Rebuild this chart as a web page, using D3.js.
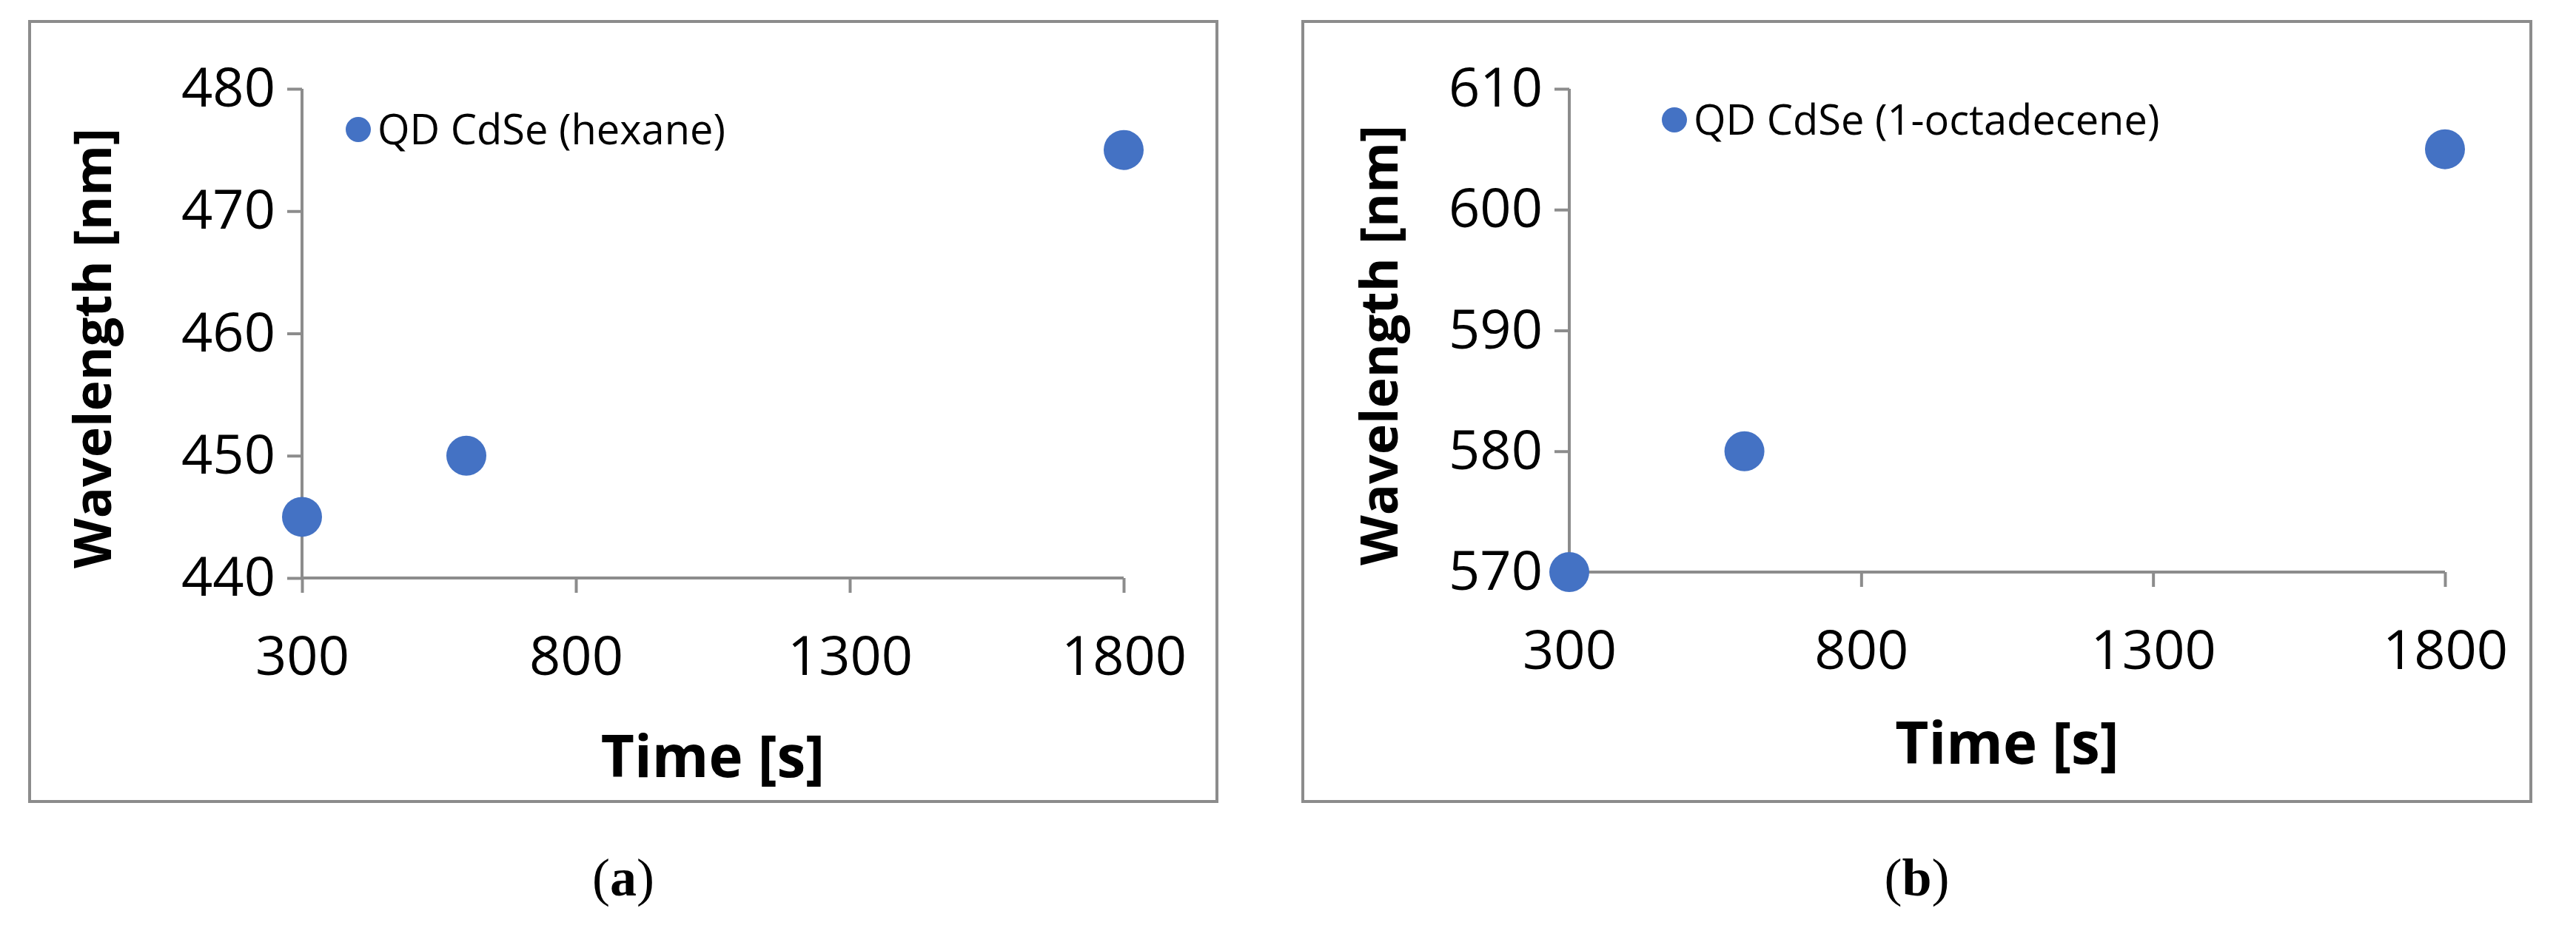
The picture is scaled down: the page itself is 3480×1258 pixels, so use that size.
<!DOCTYPE html>
<html><head><meta charset="utf-8">
<script src="https://cdn.jsdelivr.net/npm/d3@7"></script>
<style>body{margin:0;background:#fff}</style></head>
<body><svg id="c" width="3480" height="1258"></svg>
<script>
const timesA = [300, 600, 1800];
const waveA = [445, 450, 475];
const timesB = [300, 600, 1800];
const waveB = [570, 580, 605];
const xTicks = [300, 800, 1300, 1800];
const yTicksA = [440, 450, 460, 470, 480];
const yTicksB = [570, 580, 590, 600, 610];
const labelsA = {legend: "QD CdSe (hexane)", cap: "a"};
const labelsB = {legend: "QD CdSe (1-octadecene)", cap: "b"};

const svg = d3.select("#c");
const gray = "#8c8c8c", blue = "#4472c4";
const font = "'Liberation Sans Narrow','Open Sans',sans-serif";

function panel(cfg, xs, ys, yTicks, lab) {
  const g = svg.append("g");
  g.append("rect").attr("x", cfg.bx0).attr("y", 29).attr("width", cfg.bx1 - cfg.bx0).attr("height", 1054)
    .attr("fill", "none").attr("stroke", gray).attr("stroke-width", 4);
  const x = d3.scaleLinear().domain([300, 1800]).range([cfg.ax, cfg.ax1]);
  const y = d3.scaleLinear().domain([yTicks[0], yTicks[yTicks.length-1]]).range([cfg.ay, 120]);
  const xa = g.append("g").attr("transform", `translate(0,${cfg.ay})`)
    .call(d3.axisBottom(x).tickValues(xTicks).tickSize(20).tickPadding(58).tickFormat(d3.format("d")));
  const ya = g.append("g").attr("transform", `translate(${cfg.ax},0)`)
    .call(d3.axisLeft(y).tickValues(yTicks).tickSize(20).tickPadding(16).tickFormat(d3.format("d")));
  [xa, ya].forEach(a => {
    a.selectAll("path,line").attr("stroke", gray).attr("stroke-width", 4);
    a.selectAll("text").attr("font-family", font).attr("font-size", 74).attr("fill", "#000");
    a.select(".domain").attr("d", a === xa ? `M${cfg.ax},0H${cfg.ax1}` : `M0,${cfg.ay}V120`);
  });
  g.selectAll("circle.pt").data(xs.map((t, i) => [t, ys[i]])).join("circle").attr("class", "pt")
    .attr("cx", d => x(d[0])).attr("cy", d => y(d[1])).attr("r", 27).attr("fill", blue);
  g.append("circle").attr("cx", cfg.lx).attr("cy", cfg.ly).attr("r", 17).attr("fill", blue);
  g.append("text").attr("x", cfg.lx + 26).attr("y", cfg.ly).attr("dy", "0.35em")
    .attr("font-family", font).attr("font-size", 56).text(lab.legend);
  g.append("text").attr("x", (cfg.ax + cfg.ax1) / 2).attr("y", cfg.xty).attr("text-anchor", "middle")
    .attr("font-family", font).attr("font-weight", "bold").attr("font-size", 78).text("Time [s]");
  g.append("text").attr("transform", `translate(${cfg.ytx},${(120 + cfg.ay) / 2 + 20}) rotate(-90)`)
    .attr("text-anchor", "middle").attr("font-family", "'Open Sans',sans-serif").attr("font-weight", "bold")
    .attr("font-size", 70).text("Wavelength [nm]");
  const cap = g.append("text").attr("x", (cfg.bx0 + cfg.bx1) / 2).attr("y", 1210).attr("text-anchor", "middle")
    .attr("font-family", "'Liberation Serif',serif").attr("font-size", 72);
  cap.append("tspan").text("(");
  cap.append("tspan").attr("font-weight", "bold").text(lab.cap);
  cap.append("tspan").text(")");
}

panel({bx0: 40, bx1: 1644, ax: 408, ax1: 1518, ay: 781, lx: 484, ly: 175, xty: 1050, ytx: 150},
  timesA, waveA, yTicksA, labelsA);
panel({bx0: 1760, bx1: 3419, ax: 2120, ax1: 3303, ay: 773, lx: 2262, ly: 162, xty: 1032, ytx: 1888},
  timesB, waveB, yTicksB, labelsB);
</script></body></html>
